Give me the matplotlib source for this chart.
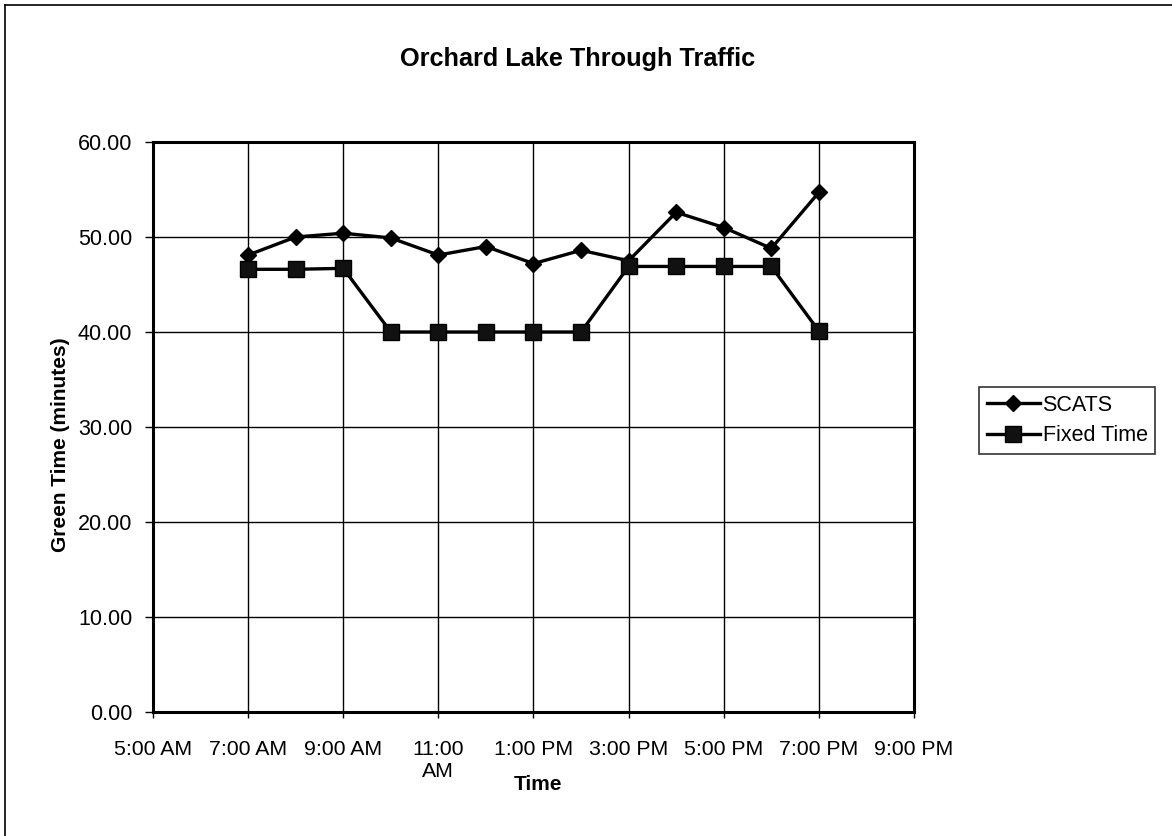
import matplotlib
matplotlib.use('Agg')
import matplotlib.pyplot as plt
from matplotlib.lines import Line2D

plt.rcParams['font.family'] = ['Liberation Sans', 'DejaVu Sans']

# hours of day (24h clock)
hours = [7, 8, 9, 10, 11, 12, 13, 14, 15, 16, 17, 18, 19]
scats = [48.1, 50.0, 50.4, 49.9, 48.1, 49.0, 47.2, 48.6, 47.5, 52.6, 51.0, 48.8, 54.7]
fixed_time = [46.6, 46.6, 46.7, 40.0, 40.0, 40.0, 40.0, 40.0, 46.9, 46.9, 46.9, 46.9, 40.1]

tick_hours = [5, 7, 9, 11, 13, 15, 17, 19, 21]
tick_labels = ['5:00 AM', '7:00 AM', '9:00 AM', '11:00\nAM', '1:00 PM',
               '3:00 PM', '5:00 PM', '7:00 PM', '9:00 PM']
y_ticks = [0, 10, 20, 30, 40, 50, 60]

W, H = 1172, 836
fig = plt.figure(figsize=(W / 100, H / 100), dpi=100)
fig.patch.set_facecolor('white')

# plot area
left, right, top, bottom = 153, 914, 142, 712
ax = fig.add_axes([left / W, 1 - bottom / H, (right - left) / W, (bottom - top) / H])

ax.plot(hours, scats, color='black', lw=2.4, marker='D', ms=8.3,
        mfc='black', mec='black', label='SCATS', zorder=3)
ax.plot(hours, fixed_time, color='black', lw=2.4, marker='s', ms=11.3,
        mfc='#111111', mec='black', label='Fixed Time', zorder=3)

ax.set_xlim(5, 21)
ax.set_ylim(0, 60)
ax.set_xticks(tick_hours)
ax.set_xticklabels(tick_labels, fontsize=15.3, linespacing=1.2)
ax.set_yticks(y_ticks)
ax.set_yticklabels(['%.2f' % v for v in y_ticks], fontsize=15.5)
ax.tick_params(axis='x', direction='out', length=4, width=1, pad=16)
ax.tick_params(axis='y', direction='out', length=6, width=1, pad=9)

ax.grid(True, color='black', lw=1.0)
ax.set_axisbelow(True)
for s in ax.spines.values():
    s.set_linewidth(2.2)
    s.set_color('black')

# titles / labels
fig.text(578 / W, 1 - 59 / H, 'Orchard Lake Through Traffic', ha='center', va='center',
         fontsize=18.2, fontweight='bold')
fig.text(60 / W, 1 - 445 / H, 'Green Time (minutes)', ha='center', va='center',
         rotation=90, fontsize=15, fontweight='bold')
fig.text(538 / W, 1 - 785 / H, 'Time', ha='center', va='center',
         fontsize=15, fontweight='bold')

leg = fig.legend(loc='upper left', bbox_to_anchor=(979 / W, 1 - 387 / H),
                 fontsize=15.5, frameon=True, fancybox=False, edgecolor='black',
                 handlelength=2.5, handletextpad=0.1, borderpad=0.35,
                 labelspacing=0.45, borderaxespad=0)
leg.get_frame().set_linewidth(1.2)

# outer chart border (left and top, as in the scan)
fig.add_artist(Line2D([5 / W, 5 / W], [0, 1 - 5 / H], color='black', lw=1.2))
fig.add_artist(Line2D([5 / W, 1], [1 - 5 / H, 1 - 5 / H], color='black', lw=1.2))

fig.savefig('out.png', dpi=100)
